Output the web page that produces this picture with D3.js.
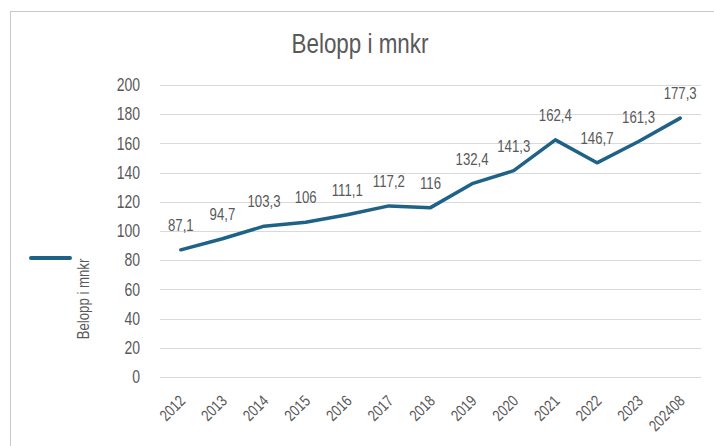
<!DOCTYPE html>
<html>
<head>
<meta charset="utf-8">
<script src="https://cdn.jsdelivr.net/npm/d3@7"></script>
<style>
  body { margin: 0; background: #fff; }
  svg text { font-family: "Liberation Sans Narrow", "Liberation Sans", Arial, sans-serif; }
</style>
</head>
<body>
<svg id="chart" width="714" height="446"></svg>
<script>
const years = ["2012", "2013", "2014", "2015", "2016", "2017", "2018", "2019", "2020", "2021", "2022", "2023", "202408"];
const amounts = [87.1, 94.7, 103.3, 106, 111.1, 117.2, 116, 132.4, 141.3, 162.4, 146.7, 161.3, 177.3];
const yTicks = [0, 20, 40, 60, 80, 100, 120, 140, 160, 180, 200];

const lineColor = "#1f6288";
const textColor = "#595959";
const narrow = 0.8; // squeeze to look like a narrow font

const margin = { top: 85, left: 160, right: 13, bottom: 69 };
const width = 714;
const height = 446;

const svg = d3.select("#chart");

// chart area border
svg
  .append("rect")
  .attr("x", 10.5)
  .attr("y", 11.5)
  .attr("width", 720)
  .attr("height", 450)
  .attr("fill", "none")
  .attr("stroke", "#c8c8c8");

const x = d3
  .scalePoint()
  .domain(years)
  .range([margin.left, width - margin.right])
  .padding(0.5);

const y = d3
  .scaleLinear()
  .domain([0, 200])
  .range([height - margin.bottom, margin.top]);

// gridlines
svg
  .append("g")
  .selectAll("line")
  .data(yTicks)
  .enter()
  .append("line")
  .attr("x1", margin.left)
  .attr("x2", width - margin.right)
  .attr("y1", (d) => Math.round(y(d)) + 0.5)
  .attr("y2", (d) => Math.round(y(d)) + 0.5)
  .attr("stroke", "#d9d9d9")
  .attr("stroke-width", 1);

// y axis labels
const yAxis = svg
  .append("g")
  .attr("transform", "translate(" + (margin.left - 20) + ",0)")
  .call(d3.axisLeft(y).tickValues(yTicks).tickSize(0).tickPadding(0));
yAxis.select(".domain").remove();
yAxis
  .selectAll("text")
  .attr("font-size", 17.5)
  .attr("fill", textColor)
  .attr("font-family", null)
  .attr("x", 0)
  .attr("transform", "scale(" + narrow + ",1)");

// x axis labels
const xAxis = svg
  .append("g")
  .attr("transform", "translate(0," + (height - margin.bottom) + ")")
  .call(d3.axisBottom(x).tickSize(0).tickPadding(0));
xAxis.select(".domain").remove();
xAxis
  .selectAll("text")
  .attr("font-size", 16)
  .attr("fill", textColor)
  .attr("font-family", null)
  .attr("text-anchor", "end")
  .attr("dy", null)
  .attr("y", 0)
  .attr("transform", "translate(5,25) rotate(-45) scale(" + narrow + ",1)");

// line
const line = d3
  .line()
  .x((d, i) => x(years[i]))
  .y((d) => y(d));

svg
  .append("path")
  .datum(amounts)
  .attr("d", line)
  .attr("fill", "none")
  .attr("stroke", lineColor)
  .attr("stroke-width", 3.5)
  .attr("stroke-linejoin", "round")
  .attr("stroke-linecap", "round");

// data labels
svg
  .append("g")
  .selectAll("text")
  .data(amounts)
  .enter()
  .append("text")
  .attr("transform", (d, i) => "translate(" + x(years[i]) + "," + (y(d) - 19) + ") scale(" + narrow + ",1)")
  .attr("text-anchor", "middle")
  .attr("font-size", 16.5)
  .attr("fill", textColor)
  .text((d) => String(d).replace(".", ","));

// title
svg
  .append("text")
  .attr("transform", "translate(360,53) scale(" + narrow + ",1)")
  .attr("text-anchor", "middle")
  .attr("font-size", 28)
  .attr("fill", textColor)
  .text("Belopp i mnkr");

// legend
svg
  .append("line")
  .attr("x1", 31)
  .attr("x2", 70)
  .attr("y1", 258)
  .attr("y2", 258)
  .attr("stroke", lineColor)
  .attr("stroke-width", 4)
  .attr("stroke-linecap", "round");

svg
  .append("text")
  .attr("transform", "translate(89,299) rotate(-90) scale(" + narrow + ",1)")
  .attr("text-anchor", "middle")
  .attr("font-size", 16.5)
  .attr("fill", textColor)
  .text("Belopp i mnkr");
</script>
</body>
</html>
